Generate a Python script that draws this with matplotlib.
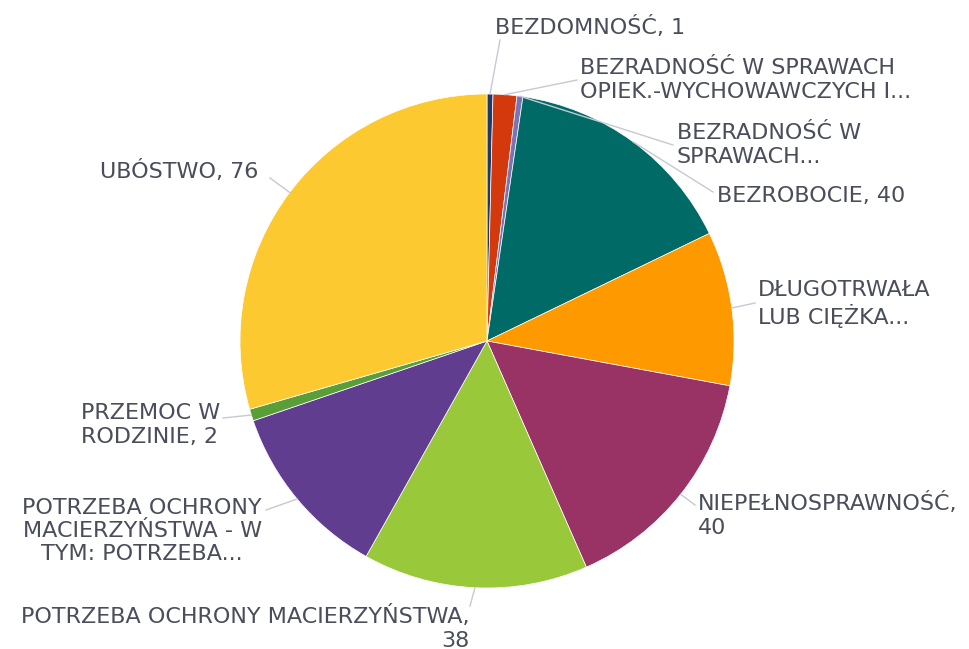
import matplotlib
matplotlib.use("Agg")
import matplotlib.pyplot as plt
import numpy as np

labels = [
    "BEZDOMNOŚĆ, 1",
    "BEZRADNOŚĆ W SPRAWACH\nOPIEK.-WYCHOWAWCZYCH I...",
    "BEZRADNOŚĆ W\nSPRAWACH...",
    "BEZROBOCIE, 40",
    "DŁUGOTRWAŁA\nLUB CIĘŻKA...",
    "NIEPEŁNOSPRAWNOŚĆ,\n40",
    "POTRZEBA OCHRONY MACIERZYŃSTWA,\n38",
    "POTRZEBA OCHRONY\nMACIERZYŃSTWA - W\nTYM: POTRZEBA...",
    "PRZEMOC W\nRODZINIE, 2",
    "UBÓSTWO, 76",
]
values = [1, 4, 1, 40, 26, 40, 38, 30, 2, 76]
colors = ["#1c3a6b", "#d4380d", "#7b73b3", "#006a66", "#ff9900",
          "#993366", "#99c93a", "#613d8f", "#5a9e38", "#fdc931"]

# label layout (pixel coords, y from top): x, y, ha, multialignment, line end
label_pos = [
    (495, 27, "left", "left", (500, 40)),
    (580, 80, "left", "left", (577, 80)),
    (677, 145, "left", "left", (673, 145)),
    (717, 196, "left", "left", (713, 192)),
    (758, 304, "left", "left", (755, 303)),
    (698, 515, "left", "left", (695, 505)),
    (470, 628, "right", "right", (470, 606)),
    (262, 531, "right", "center", (266, 510)),
    (220, 425, "right", "left", (223, 418)),
    (258, 171, "right", "left", (270, 178)),
]

W, H = 970, 649
fig = plt.figure(figsize=(W / 100, H / 100), dpi=100)
ax = fig.add_axes([0, 0, 1, 1])
cx, cy, r = 487, H - 341, 247
wedges, _ = ax.pie(values, colors=colors, startangle=90, counterclock=False,
                   center=(cx, cy), radius=r,
                   wedgeprops=dict(linewidth=0.5, edgecolor="white"))
ax.set_xlim(0, W)
ax.set_ylim(0, H)
ax.set_aspect("auto")
ax.axis("off")

txt_color = "#4a4e5a"
for w, lab, (lx, ly, ha, ma, end) in zip(wedges, labels, label_pos):
    ang = np.deg2rad((w.theta1 + w.theta2) / 2)
    sx = cx + r * np.cos(ang)
    sy = cy + r * np.sin(ang)
    ax.plot([sx, end[0]], [sy, H - end[1]], color="#c5c9d3", lw=1.0)
    ax.text(lx, H - ly, lab, ha=ha, va="center", multialignment=ma,
            fontsize=16, color=txt_color, family=["DejaVu Sans"],
            linespacing=1.2)

fig.savefig("out.png", dpi=100, facecolor="white")
